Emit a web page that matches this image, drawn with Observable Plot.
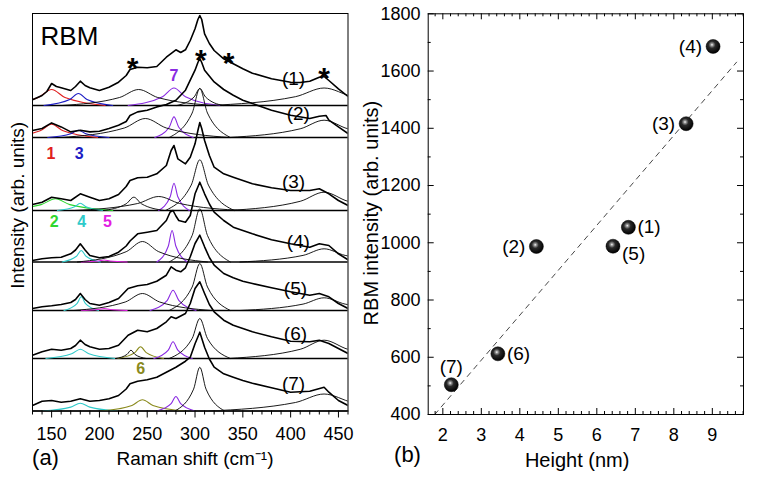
<!DOCTYPE html>
<html><head><meta charset="utf-8">
<script src="https://cdn.jsdelivr.net/npm/d3@7"></script>
<script src="https://cdn.jsdelivr.net/npm/@observablehq/plot@0.6"></script>
<style>
body{margin:0;background:#fff;}
#wrap{display:flex;width:760px;height:480px;}
#wrap svg{display:block;overflow:visible;}
</style></head><body><div id="wrap"></div>
<script>
// ---------- Panel (a): Raman spectra (intensity in arb. units, stacked) ----------
const spectrumNames = ["(1)","(2)","(3)","(4)","(5)","(6)","(7)"];
const offsets = [305.5, 273.5, 200.5, 149, 100.5, 52.5, 0];

const trace1 = [[130,5.7],[140,10],[145,14],[150,22],[155,19],[160,17.7],[170,15],[175,19],[180,24.3],[185,20],[190,17.7],[200,15],[210,18.3],[220,23.3],[228,30],[232,36],[240,38.3],[250,37.7],[260,39],[270,48.3],[280,55.7],[285,53],[290,55.7],[295,65],[300,76.7],[303,86],[305,90],[307,86],[310,71.7],[315,62],[320,55],[330,46.7],[340,41.7],[350,36.7],[360,32.3],[380,26.7],[400,23.3],[410,23],[420,24.3],[430,28.3],[435,29],[440,25],[450,16.7],[460,9]];
const trace2 = [[130,7],[140,9],[150,14.6],[160,10.6],[170,5.6],[180,7.3],[190,5.6],[200,6.3],[210,9],[220,12.3],[228,16],[232,22],[240,25.6],[250,27.3],[260,30.6],[270,33],[280,37.3],[290,47.3],[300,67.3],[303,75],[305,79],[307,75],[310,67.3],[320,55.6],[330,48],[340,42.3],[350,37.3],[360,34],[380,27.3],[400,22.3],[420,19],[430,21.3],[437,22],[440,17.3],[450,10.6],[460,4]];
const trace3 = [[130,6],[140,8.3],[150,13.3],[160,11.7],[170,10],[180,16.7],[190,13.3],[200,10],[210,11.7],[220,16],[228,24],[232,30],[240,32.7],[250,33.3],[260,36.7],[270,45],[275,60],[278,65],[282,51.7],[290,46.7],[295,53.3],[300,66.7],[303,80],[305,88],[307,82],[310,70],[315,55],[320,43.3],[330,36.7],[340,33.3],[350,30],[360,26.7],[380,22.7],[400,20],[420,20],[430,21.7],[440,16.7],[450,10],[460,5]];
const trace4 = [[130,1.5],[140,3.2],[150,4.2],[160,4.8],[170,8.2],[175,12],[180,18.2],[185,12],[190,6.5],[200,4.2],[210,5.5],[220,9.8],[228,16],[232,21],[240,28.2],[250,29.8],[260,31.5],[270,41.5],[274,50],[277,51.5],[280,46],[283,41.5],[290,39.8],[295,46.5],[300,68.2],[305,79.8],[310,68.2],[315,58],[320,49.8],[330,41.5],[340,34.8],[350,31.5],[360,28.2],[380,22.2],[400,18.2],[420,14.8],[430,18.2],[440,16.5],[450,8.2],[460,2.2]];
const trace5 = [[130,2],[140,3.7],[150,4.7],[160,6],[170,8],[175,11],[180,17],[185,11],[190,7],[200,5.3],[210,8],[220,12],[230,22],[240,24.7],[250,26],[260,29.3],[270,35.3],[275,43.7],[280,40.3],[285,38.7],[290,42.7],[295,53.7],[300,67],[305,75.3],[310,63.7],[315,53],[320,45.3],[330,37],[340,32.7],[350,29.3],[360,27],[380,22.7],[400,18.7],[420,15.3],[430,17],[440,13.7],[450,7],[460,2]];
const trace6 = [[130,3.3],[140,6.7],[150,9.3],[160,8.3],[170,10],[175,13],[180,18.3],[185,14],[190,11.7],[200,9.3],[210,10],[220,13.3],[230,23.3],[240,28.3],[250,26.7],[260,30],[270,36.7],[275,41.7],[280,40],[290,45],[295,55],[300,70],[305,76.7],[310,65],[315,54],[320,46.7],[330,38.3],[340,33.3],[350,30],[360,26.7],[380,21.7],[400,17.3],[420,16.7],[430,18.3],[440,15],[450,10],[460,5]];
const trace7 = [[130,5.5],[140,9.8],[150,10.5],[160,8.8],[170,9.8],[180,12.2],[190,9.8],[200,10.5],[210,12.2],[220,15.5],[228,22],[232,27.2],[240,29.8],[250,31.2],[260,33.8],[270,38.8],[280,43.8],[290,49.8],[295,53.8],[300,67.2],[305,78.8],[310,63.8],[315,52],[320,43.8],[330,37.2],[340,33.8],[350,30.5],[360,27.8],[380,23.2],[400,18.8],[420,19.8],[435,23.8],[440,18.8],[450,10.5],[460,5.5]];
const traces = [trace1, trace2, trace3, trace4, trace5, trace6, trace7];

// fitted components: [mode, points]; mode "bg" = unassigned (black) peak
const comps1 = [["1",[[94,0],[136,8],[150,16],[164,8],[206,0]]],["3",[[142,0],[169,6],[178,12],[187,6],[214,0]]],["bg",[[161,0],[221,8],[241,16],[261,8],[321,0]]],["7",[[230,0],[266,8.8],[278,17.5],[290,8.8],[326,0]]],["bg",[[281,0],[299,8.5],[305,17],[311,8.5],[329,0]]],["bg",[[315,0],[405,8.8],[435,17.5],[465,8.8],[555,0]]]];
const comps2 = [["1",[[102,0],[138,6.7],[150,13.3],[162,6.7],[198,0]]],["3",[[146,0],[170,3.7],[178,7.3],[186,3.7],[210,0]]],["bg",[[160,0],[226,9.5],[248,19],[270,9.5],[336,0]]],["7",[[258,0],[273,10.3],[278,20.6],[283,10.3],[298,0]]],["bg",[[273,0],[297,24.5],[305,49],[313,24.5],[337,0]]],["bg",[[335,0],[410,8.7],[435,17.3],[460,8.7],[535,0]]]];
const comps3 = [["2",[[94,0],[139,5.9],[154,11.7],[169,5.9],[214,0]]],["4",[[156,0],[174,3.7],[180,7.3],[186,3.7],[204,0]]],["bg",[[204,0],[228,6.7],[236,13.3],[244,6.7],[268,0]]],["bg",[[174,0],[240,7],[262,14],[284,7],[350,0]]],["7",[[262,0],[274,13.7],[278,27.3],[282,13.7],[294,0]]],["bg",[[269,0],[296,25.4],[305,50.7],[314,25.4],[341,0]]],["bg",[[335,0],[410,9.2],[435,18.3],[460,9.2],[535,0]]]];
const comps4 = [["4",[[161,0],[176,5.8],[181,11.5],[186,5.8],[201,0]]],["5",[[181,0],[199,1],[205,2],[211,1],[229,0]]],["bg",[[177,0],[228,10.3],[245,20.5],[262,10.3],[313,0]]],["7",[[260,0],[272,15.8],[276,31.5],[280,15.8],[292,0]]],["bg",[[273,0],[297,26.6],[305,53.2],[313,26.6],[337,0]]],["bg",[[347,0],[413,6.6],[435,13.2],[457,6.6],[523,0]]]];
const comps5 = [["4",[[163,0],[176.5,6.9],[181,13.7],[185.5,6.9],[199,0]]],["5",[[181,0],[199,1],[205,2],[211,1],[229,0]]],["bg",[[173,0],[227,8.5],[245,17],[263,8.5],[317,0]]],["7",[[253,0],[271,10.2],[277,20.3],[283,10.2],[301,0]]],["bg",[[273,0],[297,23.5],[305,47],[313,23.5],[337,0]]],["bg",[[347,0],[413,6.4],[435,12.7],[457,6.4],[523,0]]]];
const comps6 = [["4",[[144,0],[171,4.7],[180,9.3],[189,4.7],[216,0]]],["bg",[[217,0],[229,4.2],[233,8.3],[237,4.2],[249,0]]],["6",[[219,0],[237,5.9],[243,11.7],[249,5.9],[267,0]]],["7",[[257,0],[272,8.4],[277,16.7],[282,8.4],[297,0]]],["bg",[[273,0],[297,20],[305,40],[313,20],[337,0]]],["bg",[[335,0],[410,9.2],[435,18.3],[460,9.2],[535,0]]]];
const comps7 = [["4",[[140,0],[170,3.9],[180,7.8],[190,3.9],[220,0]]],["6",[[201,0],[234,5.6],[245,11.2],[256,5.6],[289,0]]],["7",[[260,0],[275,7.3],[280,14.5],[285,7.3],[300,0]]],["bg",[[279,0],[298.5,21.9],[305,43.8],[311.5,21.9],[331,0]]],["bg",[[315,0],[405,8.5],[435,17],[465,8.5],[555,0]]]];
const comps = [comps1, comps2, comps3, comps4, comps5, comps6, comps7];

const spectrumLabelW = [403, 408, 403, 408, 405, 405, 403];
const spectrumLabelV = [332.5, 297.5, 228.8, 168.8, 122.5, 77.5, 27.2];
const peakLabels = ["1","3","7","2","4","5","6"];
const peakLabelW = [149.3, 178.9, 278, 152.8, 181.4, 208.5, 243.3];
const peakLabelV = [257.2, 257.2, 335.5, 188.8, 188.8, 188.8, 42.2];
const starW = [234.6, 306, 335, 435];
const starV = [350.5, 358.8, 355.5, 340.5];
const ramanTicks = [150, 200, 250, 300, 350, 400, 450];
const ramanMinor = d3.range(130, 461, 10).filter(v => v % 50 !== 0);

// ---------- Panel (b): RBM intensity vs height ----------
const sampleLabels = ["(1)","(2)","(3)","(4)","(5)","(6)","(7)"];
const heightNm = [6.82, 4.43, 8.32, 9.02, 6.42, 3.43, 2.22];
const rbmIntensity = [1054, 987, 1416, 1686, 988, 612, 504];
const fitHeight = [1.79, 9.63];
const fitIntensity = [400, 1631];
const heightTicks = [2, 3, 4, 5, 6, 7, 8, 9];
const heightMinor = d3.range(9, 50).filter(i => i % 5 !== 0).map(i => i / 5);
const rbmTicks = [400, 600, 800, 1000, 1200, 1400, 1600, 1800];
const rbmMinor = [500, 700, 900, 1100, 1300, 1500, 1700];

// ---------- styling ----------
const FONT = 'Arial, "Liberation Sans", sans-serif';
const modeColor = {bg: "#000000", "1": "#e02020", "2": "#2ed62e", "3": "#1c1cc4", "4": "#2fcaca", "5": "#e21ee2", "6": "#8a8a1c", "7": "#8a2be2"};

// ---------- build panel (a) ----------
const traceRows = traces.flatMap((tr, i) => tr.map(([w, v]) => ({spec: i, w, v: v + offsets[i]})));
const compRows = comps.flatMap((cs, i) => cs.flatMap(([mode, pts], j) =>
  pts.map(([w, v]) => ({key: i + "-" + j, mode, w, v: v + offsets[i]}))));

const WA = 355, HA = 480;
const plotA = Plot.plot({
  width: WA, height: HA,
  marginLeft: 32, marginRight: 7.5, marginTop: 13, marginBottom: 69.5,
  x: {domain: [130, 460]},
  y: {domain: [0, 397.5], axis: null},
  style: {fontFamily: FONT, color: "black", background: "white", overflow: "visible"},
  marks: [
    Plot.ruleY(offsets, {stroke: "black", strokeWidth: 1.6}),
    ...Object.keys(modeColor).map(m => Plot.line(compRows.filter(d => d.mode === m),
      {x: "w", y: "v", z: "key", stroke: modeColor[m], strokeWidth: m === "bg" ? 0.9 : 1.1, curve: "monotone-x", clip: true})),
    Plot.line(traceRows, {x: "w", y: "v", z: "spec", stroke: "black", strokeWidth: 1.6, clip: true}),
    Plot.frame({stroke: "black", strokeWidth: 1}),
    Plot.axisX({ticks: ramanTicks, tickSize: 7, tickPadding: 9, fontSize: 18, label: null}),
    Plot.axisX({ticks: ramanMinor, tickSize: 4, tickFormat: () => "", label: null}),
    Plot.text(spectrumNames, {x: (d, i) => spectrumLabelW[i], y: (d, i) => spectrumLabelV[i], text: d => d, fontSize: 19}),
    ...peakLabels.map((p, i) => Plot.text([p], {x: peakLabelW[i], y: peakLabelV[i], text: d => d, fill: modeColor[p], fontSize: 16, fontWeight: "bold"})),
    Plot.text(starW, {x: d => d, y: (d, i) => starV[i], text: () => "*", fontSize: 30, fontWeight: "bold", dy: 8}),
    Plot.text(["RBM"], {x: 168.6, y: 374.5, text: d => d, fontSize: 26}),
    Plot.text(["Intensity (arb. units)"], {frameAnchor: "left", textAnchor: "middle", lineAnchor: "middle", rotate: -90, dx: -14.5, dy: -7, fontSize: 19}),
    Plot.text(["Raman shift (cm\u207B\u00B9)"], {frameAnchor: "bottom", textAnchor: "middle", lineAnchor: "middle", dx: 4.75, dy: 47.5, fontSize: 19}),
    Plot.text(["(a)"], {frameAnchor: "bottom-left", textAnchor: "middle", lineAnchor: "middle", dx: 13, dy: 47, fontSize: 22})
  ]
});

// ---------- build panel (b) ----------
const pts = sampleLabels.map((s, i) => ({s, h: heightNm[i], r: rbmIntensity[i]}));
const fitRows = fitHeight.map((h, i) => ({h, r: fitIntensity[i]}));
const labelSide = {"(1)": "right", "(2)": "left", "(3)": "left", "(4)": "left", "(5)": "below", "(6)": "right", "(7)": "above"};
const WB = 405, HB = 480, mB = {l: 72.7, r: 17, t: 13.3, b: 66};
const iW = WB - mB.l - mB.r, iH = HB - mB.t - mB.b;
const plotB = Plot.plot({
  width: WB, height: HB,
  marginLeft: mB.l, marginRight: mB.r, marginTop: mB.t, marginBottom: mB.b,
  x: {domain: [1.62, 9.81]},
  y: {domain: [400, 1800]},
  style: {fontFamily: FONT, color: "black", background: "white", overflow: "visible"},
  marks: [
    Plot.line(fitRows, {x: "h", y: "r", stroke: "#333", strokeWidth: 0.9, strokeDasharray: "5,5"}),
    Plot.frame({stroke: "black", strokeWidth: 1}),
    Plot.tickX(heightTicks, {x: d => d, insetTop: iH - 6, stroke: "black"}),
    Plot.tickX(heightTicks, {x: d => d, insetBottom: iH - 6, stroke: "black"}),
    Plot.tickX(heightMinor, {x: d => d, insetTop: iH - 3, stroke: "black"}),
    Plot.tickX(heightMinor, {x: d => d, insetBottom: iH - 3, stroke: "black"}),
    Plot.tickY(rbmTicks, {y: d => d, insetRight: iW - 6, stroke: "black"}),
    Plot.tickY(rbmTicks, {y: d => d, insetLeft: iW - 6, stroke: "black"}),
    Plot.tickY(rbmMinor, {y: d => d, insetRight: iW - 3, stroke: "black"}),
    Plot.tickY(rbmMinor, {y: d => d, insetLeft: iW - 3, stroke: "black"}),
    Plot.axisX({ticks: heightTicks, tickSize: 0, tickPadding: 13.5, fontSize: 18, tickFormat: d3.format("d"), label: null}),
    Plot.axisY({ticks: rbmTicks, tickSize: 0, tickPadding: 7.7, fontSize: 18, tickFormat: d3.format("d"), label: null}),
    Plot.dot(pts, {x: "h", y: "r", r: 7, fill: "url(#ball)", stroke: "#000", strokeWidth: 0.5}),
    Plot.text(pts.filter(d => labelSide[d.s] === "left"), {x: "h", y: "r", text: "s", textAnchor: "end", dx: -11, fontSize: 19}),
    Plot.text(pts.filter(d => labelSide[d.s] === "right"), {x: "h", y: "r", text: "s", textAnchor: "start", dx: 9, fontSize: 19}),
    Plot.text(pts.filter(d => labelSide[d.s] === "below"), {x: "h", y: "r", text: "s", textAnchor: "start", dx: 9, dy: 8, fontSize: 19}),
    Plot.text(pts.filter(d => labelSide[d.s] === "above"), {x: "h", y: "r", text: "s", dy: -18, fontSize: 19}),
    Plot.text(["RBM intensity (arb. units)"], {frameAnchor: "left", textAnchor: "middle", lineAnchor: "middle", rotate: -90, dx: -57, dy: -1, fontSize: 20}),
    Plot.text(["Height (nm)"], {frameAnchor: "bottom", textAnchor: "middle", lineAnchor: "middle", dx: -8.7, dy: 46, fontSize: 20}),
    Plot.text(["(b)"], {frameAnchor: "bottom-left", textAnchor: "middle", lineAnchor: "middle", dx: -20.7, dy: 40, fontSize: 22})
  ]
});
const ns = "http://www.w3.org/2000/svg";
const defs = document.createElementNS(ns, "defs");
defs.innerHTML = '<radialGradient id="ball" cx="0.42" cy="0.38" r="0.62"><stop offset="0" stop-color="#ffffff"/><stop offset="0.14" stop-color="#9a9a9a"/><stop offset="0.4" stop-color="#2a2a2a"/><stop offset="1" stop-color="#000000"/></radialGradient>';
plotB.prepend(defs);

const wrap = document.getElementById("wrap");
wrap.append(plotA, plotB);
</script>
</body></html>
